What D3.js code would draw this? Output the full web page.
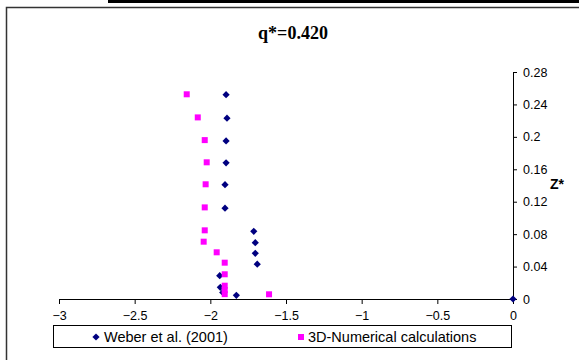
<!DOCTYPE html>
<html>
<head>
<meta charset="utf-8">
<script src="https://cdn.jsdelivr.net/npm/d3@7"></script>
<style>
  body { margin: 0; background: #fff; }
  svg { display: block; }
  .tick text { font-family: "Liberation Sans", Arial, sans-serif; font-size: 12.5px; fill: #000; }
</style>
</head>
<body>
<div id="chart"></div>
<script>
// Weber et al. (2001) measurements
const weberX = [-1.896, -1.89, -1.896, -1.896, -1.903, -1.903, -1.713, -1.703, -1.703, -1.69, -1.938, -1.934, -1.918, -1.828, 0];
const weberZ = [0.252, 0.223, 0.195, 0.168, 0.141, 0.112, 0.0835, 0.0695, 0.0564, 0.043, 0.0288, 0.0144, 0.008, 0.0045, 0];

// 3D numerical results
const numX = [-2.156, -2.083, -2.037, -2.024, -2.031, -2.037, -2.037, -2.044, -1.958, -1.905, -1.905, -1.905, -1.905, -1.905, -1.612];
const numZ = [0.2525, 0.224, 0.196, 0.1686, 0.1415, 0.113, 0.0847, 0.0707, 0.0576, 0.0448, 0.0305, 0.0164, 0.011, 0.006, 0.0058];

const xTicks = [-3, -2.5, -2, -1.5, -1, -0.5, 0];
const zTicks = [0, 0.04, 0.08, 0.12, 0.16, 0.2, 0.24, 0.28];
const seriesNames = ["Weber et al. (2001)", "3D-Numerical calculations"];

const W = 579, H = 360;
const svg = d3.select("#chart").append("svg").attr("width", W).attr("height", H);

// top black bar and chart frame
svg.append("rect").attr("x", 108).attr("y", 0).attr("width", W - 108).attr("height", 3).attr("fill", "#000");
svg.append("rect").attr("x", 6.5).attr("y", 7.5).attr("width", W).attr("height", H)
  .attr("fill", "none").attr("stroke", "#333").attr("stroke-width", 1.5);

svg.append("text").attr("x", 293).attr("y", 39).attr("text-anchor", "middle")
  .style("font-family", "'Liberation Serif', 'Times New Roman', serif")
  .style("font-weight", "bold").style("font-size", "18px").text("q*=0.420");

const x = d3.scaleLinear().domain([-3, 0]).range([59, 513]);
const y = d3.scaleLinear().domain([0, 0.28]).range([299, 72]);

svg.append("g").attr("transform", "translate(0,299)")
  .call(d3.axisBottom(x).tickValues(xTicks).tickFormat(d3.format("")).tickSize(5).tickPadding(7))
  .call(g => g.select(".domain").attr("stroke", "#000"))
  .call(g => g.selectAll(".tick line").attr("stroke", "#000"));

svg.append("g").attr("transform", "translate(513,0)")
  .call(d3.axisRight(y).tickValues(zTicks).tickFormat(d3.format("")).tickSize(4).tickPadding(6))
  .call(g => g.select(".domain").attr("stroke", "#000"))
  .call(g => g.selectAll(".tick line").attr("stroke", "#000"));

svg.append("text").attr("x", 557).attr("y", 189).attr("text-anchor", "middle")
  .style("font-family", "'Liberation Sans', Arial, sans-serif")
  .style("font-weight", "bold").style("font-size", "14px").text("Z*");

// diamond marker: square turned 45 degrees
const diamond = "M0,-3.6L3.6,0L0,3.6L-3.6,0Z";

svg.append("g").selectAll("path").data(weberX).join("path")
  .attr("d", diamond)
  .attr("transform", (d, i) => `translate(${x(d)},${y(weberZ[i])})`)
  .attr("fill", "#000080");

svg.append("g").selectAll("rect").data(numX).join("rect")
  .attr("x", d => x(d) - 3).attr("y", (d, i) => y(numZ[i]) - 3)
  .attr("width", 6).attr("height", 6).attr("fill", "#ff00ff");

// legend
const leg = svg.append("g");
leg.append("rect").attr("x", 53.5).attr("y", 325.5).attr("width", 458).attr("height", 22)
  .attr("fill", "#fff").attr("stroke", "#000");
leg.append("path").attr("d", diamond).attr("transform", "translate(96,337)").attr("fill", "#000080");
leg.append("rect").attr("x", 298).attr("y", 334).attr("width", 6).attr("height", 6).attr("fill", "#ff00ff");
leg.selectAll("text").data(seriesNames).join("text")
  .attr("x", (d, i) => i === 0 ? 104 : 308).attr("y", 342)
  .style("font-family", "'Liberation Sans', Arial, sans-serif").style("font-size", "14.5px")
  .text(d => d);
</script>
</body>
</html>
